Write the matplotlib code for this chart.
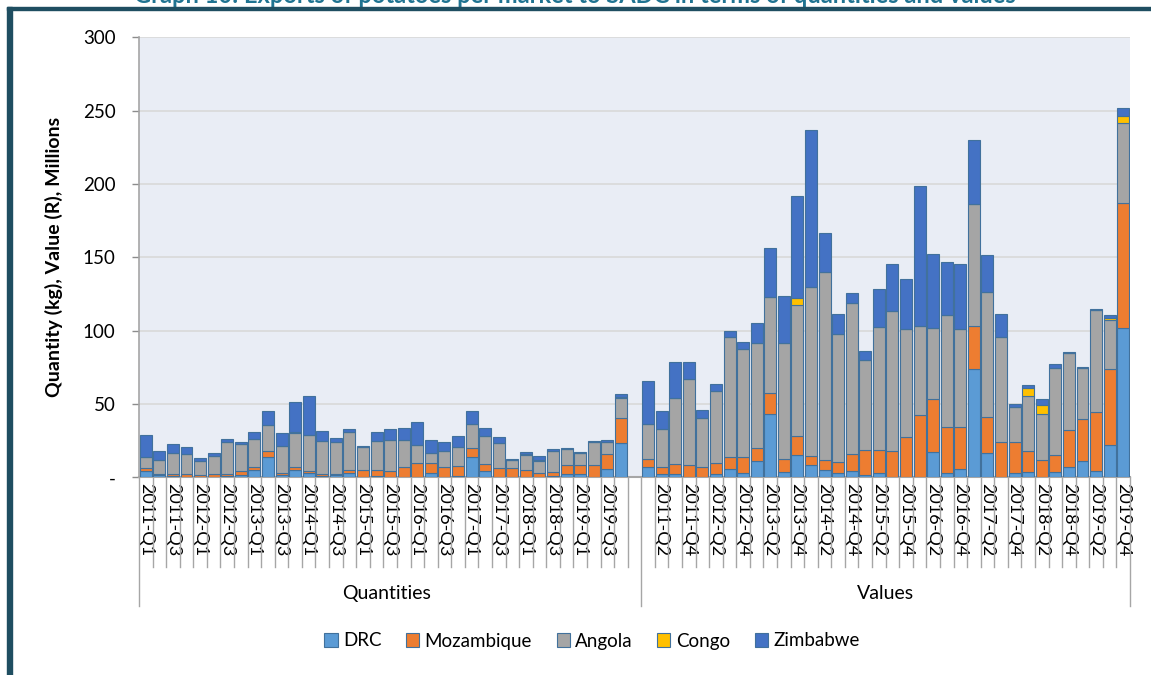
import numpy as np
import matplotlib.pyplot as plt
from matplotlib.patches import Rectangle

plt.rcParams['font.family'] = ['Lato', 'DejaVu Sans']

# quarters 2011-Q1 .. 2019-Q4
quarters = [f"{y}-Q{q}" for y in range(2011, 2020) for q in range(1, 5)]
countries = ['DRC', 'Mozambique', 'Angola', 'Congo', 'Zimbabwe']
colors = ['#5B9BD5', '#ED7D31', '#A5A5A5', '#FFC000', '#4472C4']

# quantities (kg, millions)
drc_q = [4.5, 1.5, 1, 0.5, 0.5, 0.5, 1, 1.5, 5, 13.8, 1.5, 5, 3, 1, 1.5, 3, 0.5, 1,
         0.5, 0.5, 0.5, 3, 0.5, 1, 13.6, 4.1, 0.5, 0.5, 0.5, 0.5, 1, 2, 2.3, 0.5, 5.4, 23.6]
moz_q = [2, 0.5, 1, 1.5, 1, 1.5, 1.5, 2.5, 1.8, 4.1, 1.5, 2, 1, 1.5, 1, 2, 4.5, 4,
         4, 6.3, 9, 6.6, 6.7, 6.7, 6.2, 5.2, 5.6, 5.8, 4.5, 2.4, 2.6, 6.4, 6.3, 7.9, 10.5, 17]
ang_q = [7.5, 9.6, 14.4, 14, 9.4, 12.3, 21.8, 18.5, 19.5, 17.8, 18.1, 23, 24.8, 22.2, 21.4, 26.1, 15.4, 19.5,
         21, 18.6, 12.3, 7.3, 10.9, 12.7, 16.5, 18.9, 17.1, 5.3, 10, 8.2, 14.3, 10.7, 7.8, 15.5, 8, 13.4]
congo_q = [0, 0, 0, 0, 0, 0, 0, 0, 0, 0, 0, 0.8, 0, 0, 0, 0, 0, 0,
           0, 0, 0, 0, 0, 0, 0, 0, 0, 0, 0.9, 0.8, 0, 0, 0, 0, 0, 1]
zim_q = [14.8, 6.3, 6.3, 4.8, 2.5, 2.1, 1.8, 1.8, 4.6, 9.5, 9.3, 20.7, 26.6, 6.9, 2.7, 1.8, 1.1, 6.6,
         7.7, 8, 15.7, 8.4, 6.2, 7.8, 8.9, 5.2, 4.1, 0.9, 1.3, 2.4, 1.2, 0.9, 0.8, 0.8, 1.3, 2]

# values (R, millions)
drc_v = [6.8, 2, 2.2, 0.5, 0.5, 2.2, 5.4, 2.7, 11.1, 43, 3.4, 15, 8.2, 5, 3.1, 4.3, 1.5, 3.1,
         0.5, 0.3, 0.3, 17.5, 3.1, 5.7, 73.6, 16.8, 0.3, 2.7, 3.4, 0.5, 3.8, 7.2, 11.3, 4.3, 22, 102]
moz_v = [5.5, 5.2, 6.9, 7.9, 6.7, 7.3, 8.2, 10.9, 8.7, 14.3, 9.1, 13.2, 6.3, 6.8, 7.5, 11.4, 17.1, 15.5,
         17.4, 27.4, 42.2, 35.9, 31.4, 28.6, 29.8, 24.1, 23.8, 21.4, 14.5, 11.3, 11.4, 25, 28.7, 40, 51.8, 85.2]
ang_v = [24, 25.5, 45.2, 58.6, 33, 49.5, 82.3, 73.7, 71.6, 65.8, 79.3, 89.1, 115, 128.4, 87.1, 103.3, 61.4, 84.1,
         95.7, 73.2, 60.7, 48.2, 76.2, 66.8, 82.7, 85.4, 71.8, 24, 37.5, 31.1, 59.1, 52.7, 34.7, 69.8, 33.4, 54.2]
congo_v = [0, 0, 0, 0, 0, 0, 0, 0, 0, 0, 0, 5.2, 0, 0, 0, 0, 0, 0,
           0, 0, 0, 0, 0, 0, 0, 0, 0, 0, 5.3, 6.2, 0, 0, 0, 0, 1.6, 5.2]
zim_v = [29.6, 12.7, 24.5, 11.8, 5.7, 4.6, 3.8, 4.7, 13.6, 33, 31.8, 69.5, 107.3, 26.6, 13.4, 6.4, 6.3, 25.5,
         31.8, 34.3, 95.6, 50.9, 35.9, 44.5, 43.9, 25.1, 15.4, 1.7, 2, 4.3, 3, 0.7, 0.7, 0.9, 1.6, 5]

n = len(quarters)
# one empty slot closes the Quantities group, then Values follow
x_q = np.arange(n)
x_v = np.arange(n) + n + 1
total = 2 * n + 1

fig = plt.figure(figsize=(11.51, 6.75), dpi=100)
ax = fig.add_axes([139 / 1151, 1 - 477.3 / 675, (1130 - 139) / 1151, 440 / 675])
ax.set_facecolor('#E9EDF5')

series_q = [drc_q, moz_q, ang_q, congo_q, zim_q]
series_v = [drc_v, moz_v, ang_v, congo_v, zim_v]
for xs, series in [(x_q, series_q), (x_v, series_v)]:
    bottom = np.zeros(n)
    for name, vals, c in zip(countries, series, colors):
        vals = np.array(vals)
        ax.bar(xs, vals, width=0.88, bottom=bottom, color=c, edgecolor='#41719C',
               linewidth=0.8, label=name if xs is x_q else None, zorder=3)
        bottom += vals

ax.set_xlim(-0.5, total - 0.5)
ax.set_ylim(0, 300)
ax.set_yticks(np.arange(0, 301, 50))
ax.set_yticklabels(['-'] + [str(v) for v in range(50, 301, 50)], fontsize=13.5)
ax.grid(axis='y', color='#D9D9D9', linewidth=1.2, zorder=0)
ax.set_axisbelow(True)
ax.tick_params(axis='y', length=5, width=1, color='#8C8C8C', pad=12)

for s in ['top', 'right']:
    ax.spines[s].set_visible(False)
ax.spines['left'].set_color('#A6A6A6')
ax.spines['bottom'].set_color('#A6A6A6')
ax.spines['left'].set_linewidth(1.2)
ax.spines['bottom'].set_linewidth(1.5)

# category labels, every other slot
ticks = list(range(0, total, 2))
labels = []
for t in ticks:
    if t < n:
        labels.append(quarters[t])
    elif t > n:
        labels.append(quarters[t - n - 1])
    else:
        labels.append('')
ax.set_xticks(ticks)
ax.set_xticklabels(labels, rotation=270, fontsize=13)
ax.tick_params(axis='x', length=0, pad=4)

# separators of the category axis
trans = ax.get_xaxis_transform()
for k in range(total + 1):
    xk = k - 0.5
    if xk in (-0.5, n + 0.5, total - 0.5):
        ax.plot([xk, xk], [0, -0.292], transform=trans, color='#A6A6A6', lw=1, clip_on=False)
    else:
        ax.plot([xk, xk], [0, -0.203], transform=trans, color='#A6A6A6', lw=1, clip_on=False)

ax.text((n - 0.5) / 2, -0.263, 'Quantities', transform=trans, ha='center', va='center', fontsize=14)
ax.text((n + 0.5 + total - 0.5) / 2, -0.263, 'Values', transform=trans, ha='center', va='center', fontsize=14)

ax.set_ylabel('Quantity (kg), Value (R), Millions', fontsize=14, fontweight='bold', labelpad=14)

fig.legend(loc='center', bbox_to_anchor=(592 / 1151, 1 - 641 / 675), ncol=5, frameon=False,
           fontsize=13.5, handlelength=0.7, handleheight=0.7, handletextpad=0.3, columnspacing=1.3)

# frame of the report box
fig.patches.append(Rectangle((7 / 1151, 0), 5 / 1151, 1 - 7 / 675, transform=fig.transFigure,
                             color='#1F4E61', zorder=10))
fig.patches.append(Rectangle((7 / 1151, 1 - 10 / 675), 1, 3 / 675, transform=fig.transFigure,
                             color='#1F4E61', zorder=10))
fig.text(575 / 1151, 1 - 3 / 675, 'Graph 10: Exports of potatoes per market to SADC in terms of quantities and values',
         ha='center', va='baseline', fontsize=17, fontweight='bold', color='#1F7391')

fig.savefig('out.png', dpi=100)
